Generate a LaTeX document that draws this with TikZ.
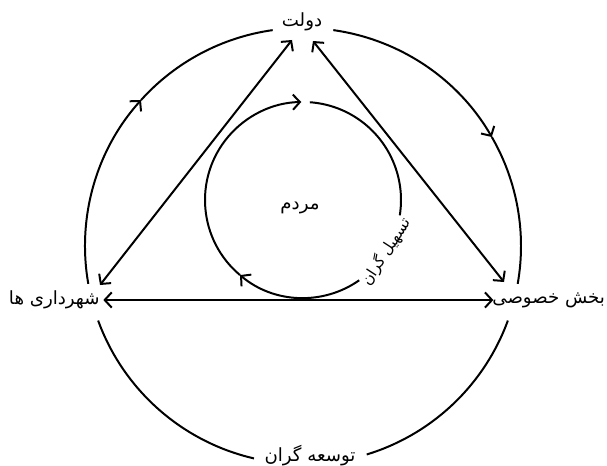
\documentclass[tikz,border=0pt]{standalone}
\usepackage{fontspec}
\usetikzlibrary{arrows.meta}
\newfontfamily\farsifont[Script=Arabic]{DejaVu Sans}
\TeXXeTstate=1
\newcommand{\fatext}[1]{{\farsifont\beginR #1\endR}}

\begin{document}
\begin{tikzpicture}[
    x=0.03cm, y=0.03cm,
    actor/.style={
      inner sep=1pt,
      font=\fontsize{15.5}{17}\selectfont
    },
    along/.style={
      inner sep=1pt,
      font=\fontsize{13}{15}\selectfont
    },
    ring/.style={line width=1.7pt},
    flow/.style={ring, -{Straight Barb[length=6pt,width=13pt]}},
    link/.style={ring, {Straight Barb[length=6pt,width=13pt]}-{Straight Barb[length=6pt,width=13pt]}}
  ]
    \useasboundingbox (0,0) rectangle (607,465);

    \coordinate (outer) at (303,219);
    \coordinate (inner) at (303,265);

    \node[actor] (dolat) at (302,443) {\fatext{دولت}};
    \node[actor, anchor=east] (muni) at (101,165) {\fatext{شهرداری ها}};
    \node[actor, anchor=west] (priv) at (491,165) {\fatext{بخش خصوصی}};
    \node[actor] (dev) at (310,9) {\fatext{توسعه گران}};
    \node[actor] (people) at (300,257) {\fatext{مردم}};
    \node[along, rotate=57] (facil) at ([shift={(-32:98)}]inner) {\fatext{تسهیل گران}};

    % corners of the triangle
    \coordinate (topL) at ([shift={(-10,-18)}]dolat.center);
    \coordinate (topR) at ([shift={(11,-19)}]dolat.center);
    \coordinate (left) at ([shift={(-1,15)}]muni.east);
    \coordinate (right) at ([shift={(13,18)}]priv.west);

    \draw[link] (topL) -- (left);
    \draw[link] (topR) -- (right);
    \draw[link] ([xshift=2pt]muni.east) -- ([xshift=2pt]muni.east -| priv.west);

    % outer ring
    \draw[flow] ([shift={(190:218)}]outer) arc[start angle=190, end angle=138, radius=218];
    \draw[ring] ([shift={(138:218)}]outer) arc[start angle=138, end angle=98, radius=218];
    \draw[flow] ([shift={(82:218)}]outer) arc[start angle=82, end angle=30, radius=218];
    \draw[ring] ([shift={(30:218)}]outer) arc[start angle=30, end angle=-10, radius=218];
    \draw[ring] ([shift={(200:218)}]outer) arc[start angle=200, end angle=257, radius=218];
    \draw[ring] ([shift={(-73:218)}]outer) arc[start angle=-73, end angle=-20, radius=218];

    % inner ring
    \draw[ring] ([shift={(86:98)}]inner) arc[start angle=86, end angle=-9, radius=98];
    \draw[flow] ([shift={(-55:98)}]inner) arc[start angle=-55, end angle=-130, radius=98];
    \draw[flow] ([shift={(-130:98)}]inner) arc[start angle=-130, end angle=-269, radius=98];
\end{tikzpicture}
\end{document}
